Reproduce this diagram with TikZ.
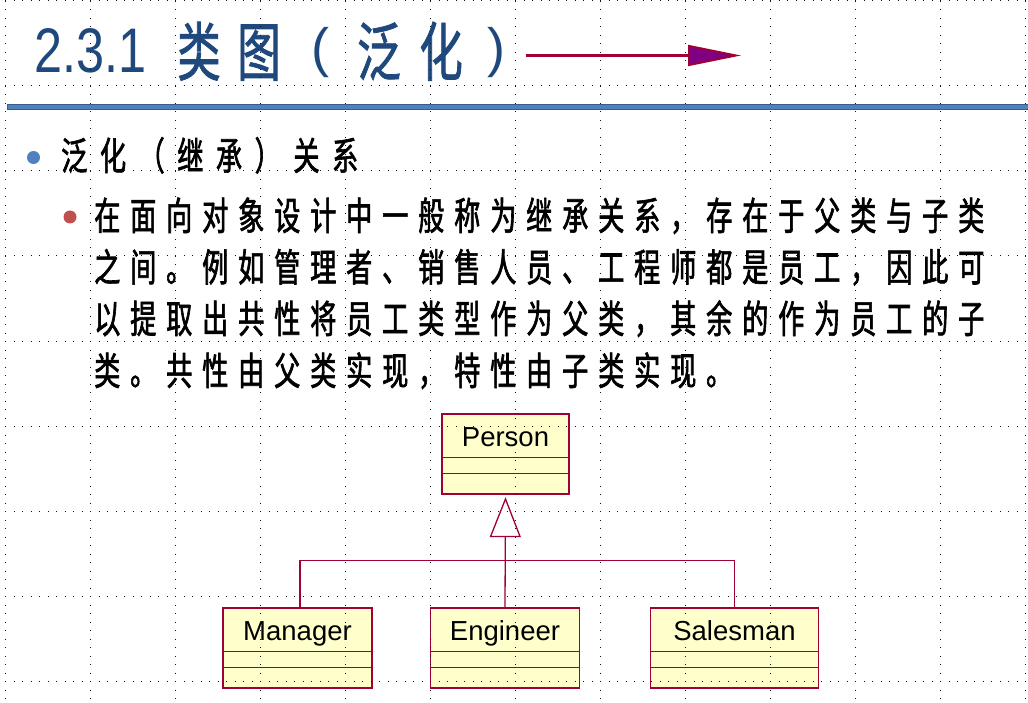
\documentclass[tikz,border=0pt]{standalone}
\usepackage{fontspec}
\setmainfont{Liberation Sans}
\newfontfamily\cjkf{Noto Sans CJK SC}[FakeStretch=0.68, FakeBold=1.6]
\newfontfamily\cjkt{Noto Sans CJK SC}[FakeStretch=0.68, FakeBold=1.2]
\newfontfamily\titlelat{Liberation Sans}[FakeStretch=0.8]
\usetikzlibrary{arrows.meta}
\definecolor{titleblue}{RGB}{31,73,125}
\definecolor{barblue}{RGB}{79,129,189}
\definecolor{barline}{RGB}{56,93,138}
\definecolor{crim}{RGB}{160,0,50}
\definecolor{arrowpurple}{RGB}{128,0,128}
\definecolor{classfill}{RGB}{255,255,204}
\definecolor{bulletred}{RGB}{192,80,77}
\definecolor{dotcol}{RGB}{20,20,20}
\newcommand\spreadchars[2]{\def\sppitch{#1}\spreadloop#2\relax}
\def\spreadloop#1{\ifx\relax#1\else\makebox[\sppitch][l]{#1}\expandafter\spreadloop\fi}
\begin{document}
\begin{tikzpicture}[x=1pt,y=-1pt,
  titlecjk/.style={font=\cjkt\fontsize{64}{70}\selectfont, text=titleblue, inner sep=0, anchor=base},
  titlepar/.style={font=\fontsize{54}{60}\selectfont, text=titleblue, inner sep=0, anchor=center},
  bodytext/.style={font=\cjkf\fontsize{38.5}{44}\selectfont, inner sep=0, anchor=base west},
  bulletdot/.style={circle, minimum size=13pt, inner sep=0},
  classbox/.style={draw=crim, fill=classfill, line width=1.3pt, minimum height=80pt, inner sep=0},
  classname/.style={font=\fontsize{27.5}{30}\selectfont, inner sep=0, anchor=base},
  umlline/.style={draw=crim, line width=1.3pt},
  griddot/.style={draw=dotcol, line width=1pt, dash pattern=on 1pt off 7.5pt}
]
\useasboundingbox (0,0) rectangle (1028,703);
\fill[white] (0,0) rectangle (1028,703);

% title
\node[font=\titlelat\fontsize{63}{70}\selectfont, text=titleblue, inner sep=0, anchor=base west] (tnum) at (34.5,73) {2.3.1};
\node[titlecjk] (tc1) at (199,75.5) {类};
\node[titlecjk] (tc2) at (259,75.5) {图};
\node[titlepar] (tp1) at (320,52.5) {(};
\node[titlecjk] (tc3) at (379,75.5) {泛};
\node[titlecjk] (tc4) at (441,75.5) {化};
\node[titlepar] (tp2) at (496,52.5) {)};
\coordinate (ta) at (526,55.5);
\coordinate (tb) at (741,55.5);
\draw[crim, line width=2.7pt, -{Triangle[length=53pt, width=21pt, line width=1.8pt, fill=arrowpurple]}] (ta) -- (tb);

% bar
\filldraw[fill=barblue, draw=barline, line width=0.8pt] (7,104) rectangle (1032,109);

% bullets and text
\node[bulletdot, fill=barblue] (b1) at (33.5,157.5) {};
\node[bodytext] (l0) at (61,170) {\spreadchars{38.7pt}{泛化（继承）关系}};
\node[bulletdot, fill=bulletred] (b2) at (70,217) {};
\node[bodytext] (l1) at (94,230) {\spreadchars{36pt}{在面向对象设计中一般称为继承关系，存在于父类与子类}};
\node[bodytext] (l2) at (94,281.5) {\spreadchars{36pt}{之间。例如管理者、销售人员、工程师都是员工，因此可}};
\node[bodytext] (l3) at (94,333) {\spreadchars{36pt}{以提取出共性将员工类型作为父类，其余的作为员工的子}};
\node[bodytext] (l4) at (94,385) {\spreadchars{36pt}{类。共性由父类实现，特性由子类实现。}};

% classes
\newcommand\compart[1]{%
  \draw[umlline] ([yshift=-44pt]#1.north west) -- ([yshift=-44pt]#1.north east);
  \draw[umlline] ([yshift=-60pt]#1.north west) -- ([yshift=-60pt]#1.north east);}
\node[classbox, minimum width=127pt] (person) at (505.5,454) {};
\compart{person}
\node[classname] (personT) at ([yshift=-33.5pt]person.north) {Person};
\node[classbox, minimum width=149pt] (man) at (297.5,648) {};
\compart{man}
\node[classname] (manT) at ([yshift=-33.5pt]man.north) {Manager};
\node[classbox, minimum width=148.5pt] (eng) at (505,648) {};
\compart{eng}
\node[classname] (engT) at ([yshift=-33.5pt]eng.north) {Engineer};
\node[classbox, minimum width=167.5pt] (sal) at (734.5,648) {};
\compart{sal}
\node[classname] (salT) at ([yshift=-33.5pt]sal.north) {Salesman};

\coordinate (bar) at (505.5,560.5);
\draw[umlline] ([xshift=2.5pt]man.north) |- (bar) -| (sal.north);
\draw[umlline, -{Triangle[open, length=40pt, width=31pt, fill=white]}] (eng.north) -- ([yshift=-2.5pt]person.south);

% grid
\foreach \i in {0,...,12} \draw[griddot] (5+85*\i,1) -- (5+85*\i,703);
\foreach \j in {0,...,8} \draw[griddot] (5,1+85*\j) -- (1028,1+85*\j);
\end{tikzpicture}
\end{document}
